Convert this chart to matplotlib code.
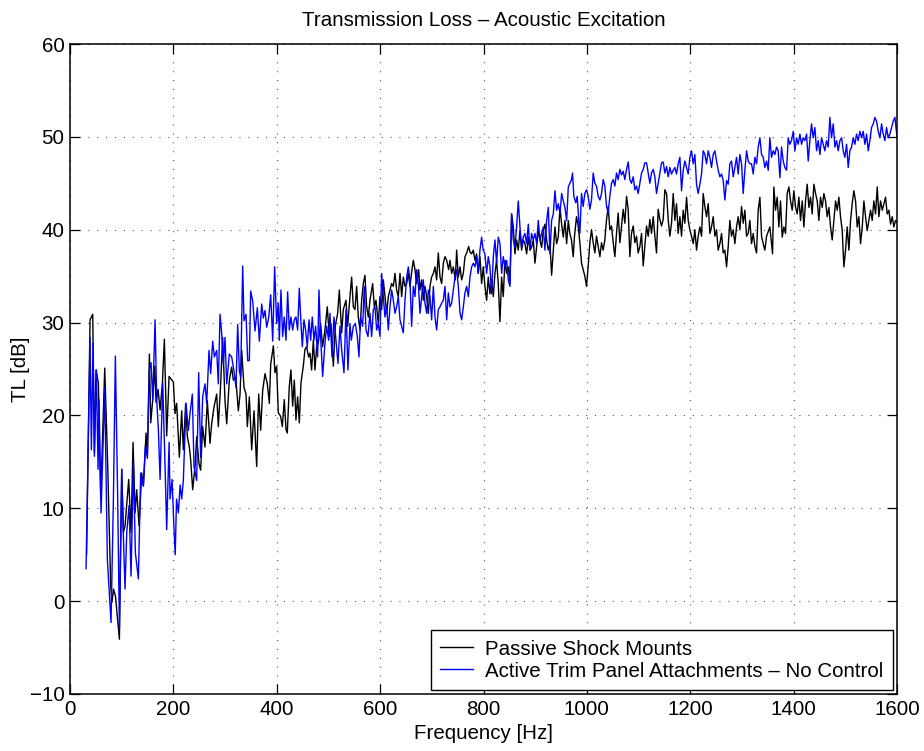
import matplotlib
matplotlib.use("Agg")
import matplotlib.pyplot as plt

plt.rcParams['font.family'] = ['Liberation Sans', 'DejaVu Sans']

# Passive shock mounts: frequency [Hz] and transmission loss [dB]
passive_hz = [
    32, 38.7, 43.9, 47.1, 50.3, 54.8, 59.3, 67.1, 72.9, 78.7, 81.3, 84, 88, 95.5,
    100, 103.2, 106.4, 113.5, 118, 121.9, 125.8, 129, 133.5, 138.7, 141.9, 147.1,
    149.6, 153.5, 156.1, 160, 163.8, 166.4, 170.3, 174.2, 178.7, 182.5, 187, 191.6,
    199.9, 203.1, 206.3, 211.5, 216, 219.2, 223.7, 227, 230.8, 233.4, 237.3, 241.8,
    245, 249.5, 252.7, 256.6, 261.1, 265.6, 270.8, 274, 278.5, 283.7, 286.9, 291.4,
    295.3, 299.8, 303.1, 308.2, 312.7, 316, 320.5, 325.6, 328.9, 332.1, 336.6, 340.5,
    343, 346.9, 351.4, 356, 361.1, 365, 368.8, 372.7, 377.2, 381.7, 385.6, 388.2,
    393.4, 396.5, 399.7, 402.9, 407.4, 410.7, 414.5, 417.8, 420.3, 424.2, 427.4,
    430.7, 433.9, 437.1, 440.3, 443.6, 446.8, 451.3, 454.5, 457.8, 461.6, 464.2,
    467.4, 470.7, 473.9, 477.1, 480.3, 484.8, 488.7, 493.2, 497.7, 501.6, 504.8,
    509.4, 513.2, 517.7, 521, 525.5, 528.7, 533.9, 537.1, 541.6, 544.8, 548.1,
    551.3, 554.5, 557.7, 561, 564.2, 567.4, 570.6, 573.9, 577.1, 580.3, 585.5,
    588.7, 591.9, 596.4, 599.7, 602.9, 606.1, 609.3, 612.6, 615.8, 619, 622.2,
    625.5, 628.7, 631.9, 635.1, 638.4, 641.6, 644.8, 648, 651.3, 654.5, 657.7,
    662.2, 664.2, 667.4, 670.6, 674.5, 677.1, 680.3, 683.5, 686.7, 690, 693.2,
    696.4, 699.6, 702.9, 706.1, 709.3, 712.5, 715.8, 719, 722.2, 725.4, 728.7,
    732.5, 735.1, 738.3, 741.6, 745.4, 748, 751.2, 754.5, 757.7, 760.9, 764.1,
    767.4, 771.2, 773.8, 776.9, 780.2, 783.4, 786.6, 789.8, 793.1, 796.3, 799.5,
    802.7, 806, 809.2, 812.4, 815.6, 818.9, 822.1, 825.3, 828.5, 831.8, 835,
    838.2, 841.4, 844.7, 847.9, 851.1, 854.3, 857.6, 860.8, 864, 867.2, 870.5,
    873.7, 876.9, 880.1, 883.4, 886.6, 889.8, 893, 896.3, 899.5, 902.7, 905.9,
    909.2, 912.4, 915.6, 918.8, 922.1, 925.3, 928.5, 931.7, 935, 938.2, 941.4,
    944.6, 947.9, 951.1, 954.3, 957.5, 960.8, 964, 967, 970.2, 973.5, 976, 979.9,
    983.1, 986.4, 989.6, 992.8, 996, 999.3, 1002.5, 1005.7, 1008.9, 1012.2,
    1015.4, 1018.6, 1021.8, 1025.1, 1028.3, 1031.5, 1034.7, 1038, 1041.2, 1044.4,
    1047.6, 1050.9, 1054.1, 1057.3, 1060.5, 1063.8, 1067, 1070.2, 1073.4, 1076.7,
    1079.9, 1083.1, 1086.3, 1089.6, 1092.8, 1096, 1099.2, 1102.5, 1105.7, 1108.9,
    1112.1, 1115.4, 1118.6, 1121.8, 1125, 1128.3, 1131.5, 1134.7, 1137.9, 1141.2,
    1144.4, 1147.6, 1150.8, 1154.1, 1157.3, 1160.5, 1163.7, 1167, 1170.2, 1173.4,
    1176.6, 1179.9, 1183.1, 1186.3, 1189.5, 1192.8, 1196, 1199.2, 1202.4, 1205.7,
    1208.9, 1212.1, 1215.3, 1218.6, 1221.8, 1225, 1228.2, 1231.5, 1234.7, 1237.9,
    1241.1, 1244.4, 1247.6, 1250.8, 1254, 1257.3, 1260.5, 1263.7, 1266.9, 1270.2,
    1273.4, 1276.6, 1279.8, 1283.1, 1286.3, 1289.5, 1292.7, 1296, 1299.2, 1302.4,
    1305.6, 1308.9, 1312.1, 1315.3, 1318.5, 1321.8, 1325, 1328.2, 1331.4, 1334.7,
    1337.9, 1341.1, 1344.3, 1347.6, 1354, 1357.2, 1359.2, 1361.7, 1365, 1368.2,
    1371.4, 1374.6, 1377.9, 1381.1, 1384.3, 1387.5, 1390.8, 1394, 1397.2, 1400.4,
    1403.7, 1406.9, 1410.1, 1413.3, 1416.6, 1419.8, 1423, 1426.2, 1429.5, 1432.7,
    1435.9, 1439.1, 1442.4, 1445.6, 1448.8, 1452, 1455.3, 1458.5, 1461.7, 1464.9,
    1468.2, 1471.4, 1474.6, 1477.8, 1481.1, 1484.3, 1487.5, 1490.7, 1494, 1497.2,
    1500.4, 1503.6, 1506.9, 1510.1, 1513.3, 1516.5, 1519.8, 1523, 1526.2, 1529.4,
    1532.7, 1535.9, 1539.1, 1542.3, 1545.6, 1548.8, 1552, 1555.2, 1558.5, 1561.7,
    1564.9, 1568.1, 1571.4, 1574.6, 1577.8, 1581, 1584.3, 1587.5, 1590.7, 1593.9,
    1597.2, 1600,
]
passive_db = [
    5.0, 30.3, 30.9, 16.0, 24.9, 23.5, 11.0, 25.1, 14.6, 1.6, -0.1, 1.3, 0.5, -4.1,
    14.2, 7.4, 8.1, 13.1, 7.4, 17.1, 9.5, 12.0, 8.1, 13.8, 12.4, 18.1,
    15.4, 26.6, 19.2, 21.7, 25.3, 21.4, 22.8, 20.6, 23.5, 28.2, 17.8, 24.2,
    23.6, 20.2, 21.3, 15.5, 20.5, 16.3, 21.3, 17.7, 16.6, 15.2, 12.0, 14.5,
    17.7, 14.8, 14.1, 18.8, 16.6, 21.6, 17.0, 19.1, 20.9, 22.3, 18.8, 23.4,
    28.4, 21.6, 19.1, 23.8, 25.2, 23.8, 24.1, 20.5, 22.3, 27.0, 23.0, 22.3,
    18.8, 22.0, 16.3, 20.5, 14.5, 22.3, 18.4, 22.7, 24.5, 23.4, 21.3, 25.5,
    27.5, 24.6, 25.3, 20.3, 19.9, 18.8, 21.7, 18.5, 18.1, 23.1, 24.9,
    21.0, 23.8, 19.5, 22.0, 19.2, 23.5, 25.3, 27.1, 27.4, 26.3, 26.7,
    24.9, 28.1, 24.9, 27.4, 27.8, 29.9, 27.4, 29.2, 31.7, 28.5, 29.9,
    25.3, 29.6, 31.0, 33.5, 28.9, 31.4, 32.4, 29.6, 32.8, 34.9, 31.7,
    31.4, 33.9, 30.6, 29.2, 32.4, 34.2, 35.1, 31.7, 30.6, 32.4, 34.2,
    31.7, 32.4, 29.9, 32.8, 31.4, 34.6, 32.8, 31.0, 32.8, 33.5, 34.2,
    33.9, 35.3, 33.5, 32.8, 35.3, 32.8, 34.9, 33.9, 34.2, 35.3, 33.9,
    36.0, 36.7, 35.7, 34.2, 35.7, 33.5, 34.6, 32.4, 33.9, 32.8, 31.0,
    33.9, 34.9, 35.3, 36.0, 34.6, 37.5, 34.9, 34.2, 36.4, 37.1, 36.7,
    35.7, 36.7, 35.3, 36.0, 34.6, 37.8, 34.9, 36.0, 34.6, 35.3, 37.1,
    37.5, 38.2, 37.6, 37.4, 37.8, 36.7, 37.4, 35.3, 37.1, 34.2, 36.0,
    33.9, 32.4, 34.9, 33.1, 34.6, 32.8, 35.3, 36.7, 34.2, 30.1, 34.9,
    32.8, 36.7, 35.3, 36.0, 34.2, 41.7, 40.3, 37.4, 38.9, 37.8, 39.9,
    37.8, 38.9, 38.5, 37.4, 39.2, 37.8, 38.1, 38.9, 36.4, 38.1, 39.9,
    38.9, 38.1, 39.9, 40.6, 38.9, 37.8, 38.5, 35.1, 37.8, 40.3, 38.5,
    39.2, 42.4, 40.6, 39.2, 41.0, 38.5, 41.0, 39.6, 38.9, 37.1, 39.3, 41.4,
    40.4, 38.6, 36.4, 35.7, 35.0, 33.9, 36.1, 38.6, 40.0, 38.6,
    37.5, 39.3, 38.2, 37.1, 38.6, 37.8, 38.9, 41.1, 42.5, 40.0,
    40.4, 38.6, 37.1, 39.6, 41.8, 38.6, 40.4, 42.2, 40.7, 43.6,
    42.2, 37.1, 39.6, 40.4, 38.6, 39.3, 37.5, 38.2, 39.6, 36.1,
    38.2, 40.4, 39.3, 41.1, 39.6, 41.4, 39.3, 37.5, 42.2, 41.1,
    40.4, 41.1, 44.3, 43.9, 41.1, 39.3, 40.7, 43.9, 41.0, 42.8,
    39.6, 41.4, 39.3, 42.1, 40.7, 43.5, 41.0, 40.0, 39.3, 38.5,
    40.0, 37.8, 39.3, 40.3, 39.3, 43.9, 42.5, 41.4, 42.8, 39.6,
    40.3, 41.4, 39.3, 40.0, 37.8, 38.5, 39.6, 37.5, 37.8, 36.0,
    38.2, 41.0, 39.3, 40.0, 38.5, 40.3, 41.4, 40.0, 42.5, 40.7,
    42.1, 39.3, 39.6, 41.0, 38.5, 39.6, 38.2, 37.5, 42.1, 43.5,
    39.3, 38.5, 37.8, 39.3, 40.3, 38.5, 37.4, 44.6, 42.1, 43.5,
    40.3, 43.1, 39.2, 40.3, 39.6, 43.9, 44.6, 43.1, 42.1, 44.2,
    42.4, 41.7, 43.5, 41.0, 43.1, 40.3, 43.1, 44.9, 42.4, 43.5,
    41.7, 44.9, 43.9, 43.1, 41.0, 43.5, 42.4, 43.9, 43.1, 41.4,
    42.4, 40.3, 38.9, 41.0, 43.1, 42.1, 43.5, 41.4, 39.9, 36.0,
    37.8, 40.3, 37.8, 41.0, 42.8, 44.2, 43.1, 40.3, 41.4, 38.5,
    40.3, 43.1, 41.4, 39.9, 41.0, 42.1, 41.0, 43.1, 41.7, 44.6,
    41.4, 43.1, 42.1, 42.8, 43.5, 41.7, 42.1, 40.6, 41.4, 40.3,
    41.0, 40.8,
]

# Active trim panel attachments, no control
active_hz = [
    31, 38.7, 41.3, 44.5, 47.1, 51, 54.2, 56.1, 60, 67.1, 72.2, 79.3, 83.9, 87.7,
    92.2, 95.5, 100, 103.2, 106.4, 109.7, 114.2, 118, 122.6, 126.4, 132.2, 136.7,
    141.9, 145.8, 149.6, 153.5, 156.7, 160, 164.5, 167.7, 170.9, 174.2, 179.3,
    183.8, 187, 191.6, 193.5, 197.4, 201.2, 203.5, 206, 209.6, 213, 216, 219.2,
    224.4, 228.9, 232.1, 236.6, 239.8, 245, 248.9, 252.7, 256.6, 261.1, 264.4,
    268.9, 272.1, 276, 279.2, 283.7, 286.9, 290.2, 293.4, 296.6, 299.8, 303.1,
    308.2, 312.7, 317.2, 321.1, 324.3, 327.6, 330.1, 334, 336.6, 340.5, 343.7,
    346.9, 349.5, 353.4, 357.9, 362.4, 366.3, 370.8, 374, 377.2, 380.5, 384.3,
    388.2, 392.1, 395.9, 399.7, 402.9, 404.9, 408.1, 411.3, 414.5, 417.8, 421,
    424.2, 427.4, 430.7, 433.9, 437.1, 440.3, 443.6, 446.8, 449.4, 452.6, 455.8,
    459, 462.3, 465.5, 468.7, 472, 475.2, 479, 481.6, 484.8, 488.7, 493.2, 496.5,
    500.3, 502.9, 506.8, 510.6, 514.5, 518.4, 522.3, 525.5, 530, 533.9, 537.7,
    541.6, 544.2, 548.1, 551.9, 555.8, 559, 562.2, 566.1, 569.3, 572.6, 576.4,
    580.3, 583.5, 586.8, 590, 593.2, 596.4, 599.7, 602.9, 606.1, 609.3, 612.6,
    615.8, 619, 622.2, 625.5, 628.7, 631.9, 635.1, 638.4, 641.6, 644.8, 648,
    651.3, 654.5, 657.7, 660.9, 664.2, 667.4, 670.6, 673.8, 677.1, 680.3, 683.5,
    686.7, 690, 693.2, 696.4, 699.6, 702.9, 706.1, 709.3, 712.5, 715.8, 719,
    722.2, 725.4, 728.7, 731.9, 735.1, 738.3, 741.6, 744.8, 748, 751.2, 754.5,
    757.7, 760.9, 764.1, 767.4, 770.6, 773.8, 777, 780.3, 783.4, 786.6, 789.8,
    793.1, 796.3, 799.5, 802.7, 806, 809.2, 812.4, 815.6, 818.9, 822.1, 825.3,
    828.5, 831.8, 835, 838.2, 841.4, 844.7, 847.9, 851.1, 854.3, 857.6, 860.8,
    864, 867.2, 870.5, 873.7, 876.9, 880.1, 883.4, 886.6, 889.8, 893, 896.3,
    899.5, 902.7, 905.9, 909.2, 912.4, 915.6, 918.8, 922.1, 925.3, 928.5, 931.7,
    935, 938.2, 941.4, 944.6, 947.9, 951.1, 954.3, 957.5, 960.8, 964, 967, 970.2,
    972.2, 974.7, 978.6, 981.2, 983.8, 986.4, 989.6, 992.8, 996, 999.3, 1002.5,
    1005.7, 1008.9, 1012.2, 1015.4, 1018.6, 1021.8, 1025.1, 1028.3, 1031.5,
    1034.7, 1038, 1041.2, 1044.4, 1047.6, 1050.9, 1054.1, 1057.3, 1060.5, 1063.8,
    1067, 1070.2, 1073.4, 1076.7, 1079.9, 1083.1, 1086.3, 1089.6, 1092.8, 1096,
    1099.2, 1102.5, 1105.7, 1108.9, 1112.1, 1115.4, 1118.6, 1121.8, 1125, 1128.3,
    1131.5, 1134.7, 1137.9, 1141.2, 1144.4, 1147.6, 1150.8, 1154.1, 1157.3,
    1160.5, 1163.7, 1167, 1170.2, 1173.4, 1176.6, 1179.9, 1183.1, 1186.3, 1189.5,
    1192.8, 1196, 1199.2, 1202.4, 1205.7, 1208.9, 1212.1, 1215.3, 1218.6, 1221.8,
    1225, 1228.2, 1231.5, 1234.7, 1237.9, 1241.1, 1244.4, 1247.6, 1250.8, 1254,
    1257.3, 1260.5, 1263.7, 1266.9, 1270.2, 1273.4, 1276.6, 1279.8, 1283.1,
    1286.3, 1289.5, 1292.7, 1296, 1299.2, 1302.4, 1305.6, 1308.9, 1312.1, 1315.3,
    1318.5, 1321.8, 1325, 1328.2, 1331.4, 1334.7, 1337.9, 1341.1, 1344.3, 1347.6,
    1350.8, 1354, 1357.2, 1360.5, 1363.7, 1366.9, 1370.1, 1373.4, 1376.6, 1379.8,
    1383, 1386.3, 1389.5, 1392.7, 1395.9, 1399.2, 1402.4, 1405.6, 1408.8, 1412.1,
    1415.3, 1418.5, 1421.7, 1425, 1428.2, 1431.4, 1434.6, 1437.9, 1441.1, 1444.3,
    1447.5, 1450.8, 1454, 1457.2, 1460.4, 1463.7, 1466.9, 1470.1, 1473.3, 1476.6,
    1479.8, 1483, 1486.2, 1489.5, 1492.7, 1495.9, 1499.1, 1502.4, 1505.6, 1508.8,
    1512, 1515.3, 1518.5, 1521.7, 1524.9, 1528.2, 1531.4, 1534.6, 1537.8, 1541.1,
    1544.3, 1547.5, 1550.7, 1554, 1557.2, 1560.4, 1563.6, 1566.9, 1570.1, 1573.3,
    1576.5, 1579.8, 1583, 1586.2, 1589.4, 1592.7, 1595.9, 1600,
]
active_db = [
    3.5, 28.4, 16.3, 27.8, 15.6, 24.9, 14.2, 21.7, 9.5, 23.0, 4.5, -2.3, 11.0, 26.4,
    11.0, -3.0, 14.2, 7.0, 1.3, 7.4, 10.3, 2.7, 14.9, 5.2, 2.4, 13.8,
    12.4, 16.7, 15.6, 24.9, 25.7, 21.7, 30.3, 21.7, 18.5, 13.1, 23.5,
    14.6, 7.7, 17.1, 11.0, 13.1, 7.7, 5.0, 11.0, 9.5, 12.5, 11.0, 13.0,
    21.3, 18.4, 20.2, 22.3, 14.5, 13.0, 24.6, 15.5, 22.0, 23.4, 21.3,
    27.0, 24.5, 28.0, 26.3, 27.0, 23.4, 30.9, 28.8, 25.5, 28.4, 23.4,
    26.6, 26.3, 24.8, 23.0, 29.8, 24.8, 24.1, 36.1, 30.2, 30.9, 25.9,
    25.9, 33.4, 32.3, 29.1, 31.6, 28.0, 32.0, 30.5, 31.3, 29.5, 30.5,
    33.0, 28.0, 36.0, 29.9, 32.1, 28.1, 33.5, 28.5, 30.6, 28.1, 33.3,
    29.2, 30.6, 29.2, 30.3, 30.6, 29.2, 33.7, 29.9, 27.4, 30.3, 29.2,
    27.4, 30.3, 28.1, 30.6, 28.1, 29.6, 26.3, 33.5, 28.5, 24.2, 27.8, 29.6,
    28.1, 31.0, 26.3, 30.6, 28.1, 25.6, 29.6, 27.1, 24.6, 31.4, 24.9,
    29.9, 28.1, 29.6, 29.9, 28.5, 26.3, 30.6, 29.6, 33.9, 29.2, 28.5,
    31.0, 28.5, 31.4, 31.7, 29.2, 29.9, 28.5, 35.3, 32.8, 30.6, 31.7,
    29.2, 31.7, 33.5, 32.4, 31.0, 31.7, 32.8, 30.3, 29.6, 28.9, 32.4,
    34.9, 36.0, 34.6, 29.6, 33.9, 32.8, 35.7, 34.2, 31.0, 32.8, 34.6,
    32.1, 31.0, 33.5, 32.8, 30.3, 33.9, 30.6, 29.2, 31.4, 31.7, 32.1,
    32.4, 33.9, 30.3, 33.2, 31.7, 32.1, 33.5, 34.9, 35.7, 33.9, 31.0,
    30.3, 31.7, 33.2, 33.9, 32.8, 34.9, 36.0, 36.4, 36.0, 37.1, 35.3,
    37.8, 39.2, 37.8, 37.4, 35.3, 37.1, 36.0, 33.1, 37.1, 38.9, 36.4,
    39.2, 38.5, 35.3, 37.1, 36.0, 36.7, 34.6, 33.9, 41.7, 38.9, 38.1,
    40.3, 43.1, 40.3, 38.1, 39.2, 39.6, 38.5, 40.6, 37.8, 39.6, 38.9,
    39.6, 38.5, 41.0, 38.9, 39.6, 40.3, 37.8, 41.0, 42.4, 37.4, 41.0,
    41.7, 44.2, 42.1, 42.8, 41.7, 43.9, 43.1, 42.4, 41.0, 44.6, 45.0, 45.4,
    46.1, 43.6, 42.9, 43.6, 41.4, 39.6, 43.9, 42.5, 43.9, 44.3, 43.6,
    42.2, 43.2, 46.1, 45.0, 44.7, 43.6, 43.2, 43.9, 45.4,
    44.7, 42.5, 41.8, 43.6, 45.0, 45.4, 44.7, 46.1, 45.4, 46.5,
    45.9, 46.3, 45.4, 46.5, 47.3, 45.4, 45.0, 45.7, 44.3, 44.7,
    43.9, 45.0, 46.1, 46.5, 47.2, 47.2, 46.1, 45.0, 46.1, 46.5,
    45.7, 43.9, 45.0, 46.1, 47.2, 47.3, 46.1, 46.8, 45.7,
    46.7, 46.0, 46.4, 46.7, 46.0, 47.1, 47.8, 44.2, 46.4, 47.4,
    46.7, 46.0, 47.8, 48.5, 47.1, 48.1, 44.9, 43.9, 44.9, 46.0,
    48.5, 48.1, 47.1, 48.5, 47.8, 46.7, 48.1, 48.5, 47.4, 46.4,
    45.7, 46.0, 45.3, 43.2, 45.3, 44.9, 47.1, 47.4, 45.7,
    46.7, 47.8, 46.0, 48.1, 47.1, 43.9, 46.4, 48.5, 47.4, 47.1,
    47.1, 46.0, 47.8, 47.1, 48.9, 49.9, 48.1, 47.8, 46.7, 47.4,
    46.4, 49.9, 47.8, 48.5, 48.1, 48.9, 48.5, 45.6, 48.9, 47.4,
    46.7, 46.4, 49.9, 49.2, 49.6, 50.6, 48.5, 49.9, 49.2, 50.3,
    49.2, 49.9, 49.6, 50.3, 47.4, 49.6, 51.4, 49.9, 51.0, 48.5,
    49.6, 48.1, 49.9, 49.2, 48.5, 49.6, 48.9, 52.1, 49.9, 51.4,
    48.9, 49.6, 48.5, 49.6, 49.9, 48.5, 47.8, 49.2, 46.7, 48.5,
    48.9, 49.9, 49.2, 50.3, 49.6, 50.6, 49.9, 50.6, 49.2, 50.3,
    48.5, 49.6, 51.0, 51.4, 52.1, 51.7, 50.6, 49.9, 51.4, 50.3,
    49.6, 51.0, 49.9, 50.3, 51.0, 51.7, 52.1, 50.0,
]

xticks = [0, 200, 400, 600, 800, 1000, 1200, 1400, 1600]
yticks = [-10, 0, 10, 20, 30, 40, 50, 60]
series_labels = ["Passive Shock Mounts",
                 "Active Trim Panel Attachments \u2013 No Control"]

FS = 14.8

fig = plt.figure(figsize=(9.24, 7.51), dpi=100)
ax = fig.add_axes([0.0758, 0.0759, 0.895, 0.8655])

ax.plot(passive_hz, passive_db, color="black", lw=1.0, label=series_labels[0])
ax.plot(active_hz, active_db, color="#0000ff", lw=1.0, label=series_labels[1])

ax.set_xlim(0, 1600)
ax.set_ylim(-10, 60)
ax.set_xticks(xticks)
ax.set_yticks(yticks)
ax.set_yticklabels([("\u2212%d" % -t) if t < 0 else str(t) for t in yticks])
ax.tick_params(direction="in", top=True, right=True, length=7, width=0.9,
               labelsize=FS, pad=4)
ax.grid(True, linestyle=(0, (1, 7)), color="#555555", lw=0.8)
for sp in ax.spines.values():
    sp.set_linewidth(1.1)

ax.set_title("Transmission Loss \u2013 Acoustic Excitation", fontsize=FS, pad=13)
ax.set_xlabel("Frequency [Hz]", fontsize=FS, labelpad=4)
ax.set_ylabel("TL [dB]", fontsize=FS, labelpad=0)

leg = ax.legend(loc="lower right", fontsize=FS, fancybox=False, framealpha=1,
                edgecolor="black", handlelength=1.6, borderaxespad=0.2,
                borderpad=0.45, labelspacing=0.15, handletextpad=0.6)
leg.get_frame().set_linewidth(1.0)

fig.savefig("out.png", dpi=100)
